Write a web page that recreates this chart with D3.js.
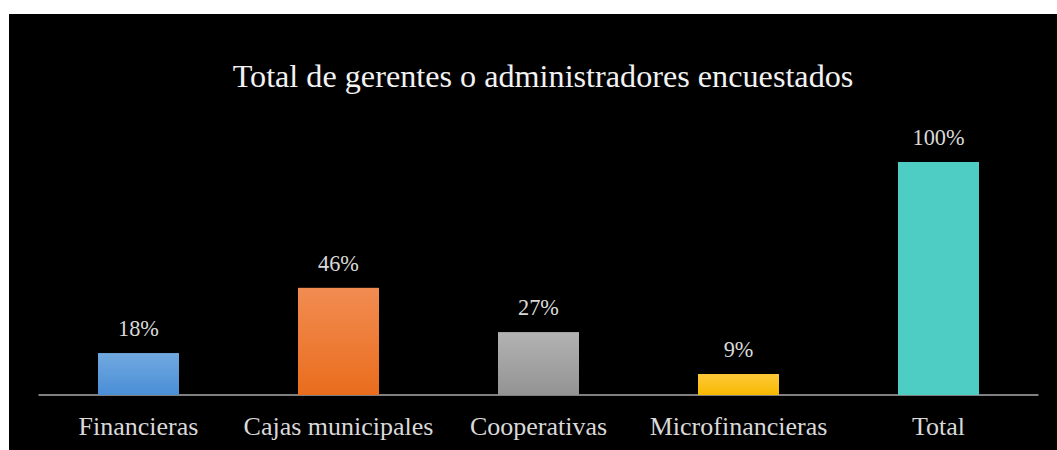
<!DOCTYPE html>
<html><head><meta charset="utf-8">
<script src="https://cdn.jsdelivr.net/npm/d3@7"></script>
<style>html,body{margin:0;padding:0;background:#fff;}svg{display:block;}</style>
</head><body>
<svg id="chart" width="1057" height="450"></svg>
<script>
const categories = ["Financieras", "Cajas municipales", "Cooperativas", "Microfinancieras", "Total"];
const values = [18, 46, 27, 9, 100];
const valueLabels = ["18%", "46%", "27%", "9%", "100%"];
const title = "Total de gerentes o administradores encuestados";
const gradients = [
  ["#71a9e0", "#4a8ed6"],
  ["#f28c52", "#e96d1c"],
  ["#b3b3b3", "#939393"],
  ["#ffc93a", "#f7b900"],
  ["#4ecdc4", "#4ecdc4"]
];

const svg = d3.select("#chart");
svg.append("rect").attr("x", 9).attr("y", 14).attr("width", 1048).attr("height", 436).attr("fill", "#000");

const defs = svg.append("defs");
gradients.forEach((g, i) => {
  const lg = defs.append("linearGradient").attr("id", "g" + i).attr("x1", 0).attr("y1", 0).attr("x2", 0).attr("y2", 1);
  lg.append("stop").attr("offset", "0%").attr("stop-color", g[0]);
  lg.append("stop").attr("offset", "100%").attr("stop-color", g[1]);
});

const x = d3.scaleBand().domain(categories).range([38.5, 1038.5]).paddingInner(0.595).paddingOuter(0.2975);
const y = d3.scaleLinear().domain([0, 100]).range([395, 162]);

const serif = "'Liberation Serif', 'Times New Roman', serif";

svg.append("text").attr("x", 543).attr("y", 87).attr("text-anchor", "middle")
  .attr("font-family", serif).attr("font-size", 32.2)
  .attr("fill", "#f2f2f2").text(title);

svg.append("line").attr("x1", 38.5).attr("x2", 1038.5).attr("y1", 395).attr("y2", 395)
  .attr("stroke", "#7f7f7f").attr("stroke-width", 2);

svg.selectAll("rect.bar").data(categories).enter().append("rect").attr("class", "bar")
  .attr("x", d => x(d)).attr("width", x.bandwidth())
  .attr("y", (d, i) => y(values[i])).attr("height", (d, i) => y(0) - y(values[i]))
  .attr("fill", (d, i) => `url(#g${i})`);

svg.selectAll("text.val").data(categories).enter().append("text").attr("class", "val")
  .attr("x", d => x(d) + x.bandwidth() / 2).attr("y", (d, i) => y(values[i]) - 17)
  .attr("text-anchor", "middle").attr("font-family", serif)
  .attr("font-size", 22.3).attr("fill", "#d9d9d9").text((d, i) => valueLabels[i]);

const xAxis = d3.axisBottom(x).tickSize(0).tickPadding(0);
const ax = svg.append("g").attr("transform", "translate(0,395)").call(xAxis)
  .attr("font-family", serif).attr("font-size", 26);
ax.select(".domain").remove();
ax.selectAll("text").attr("dy", 0).attr("y", 40)
  .attr("font-family", serif).attr("font-size", 26).attr("fill", "#d9d9d9");
</script>
</body></html>
